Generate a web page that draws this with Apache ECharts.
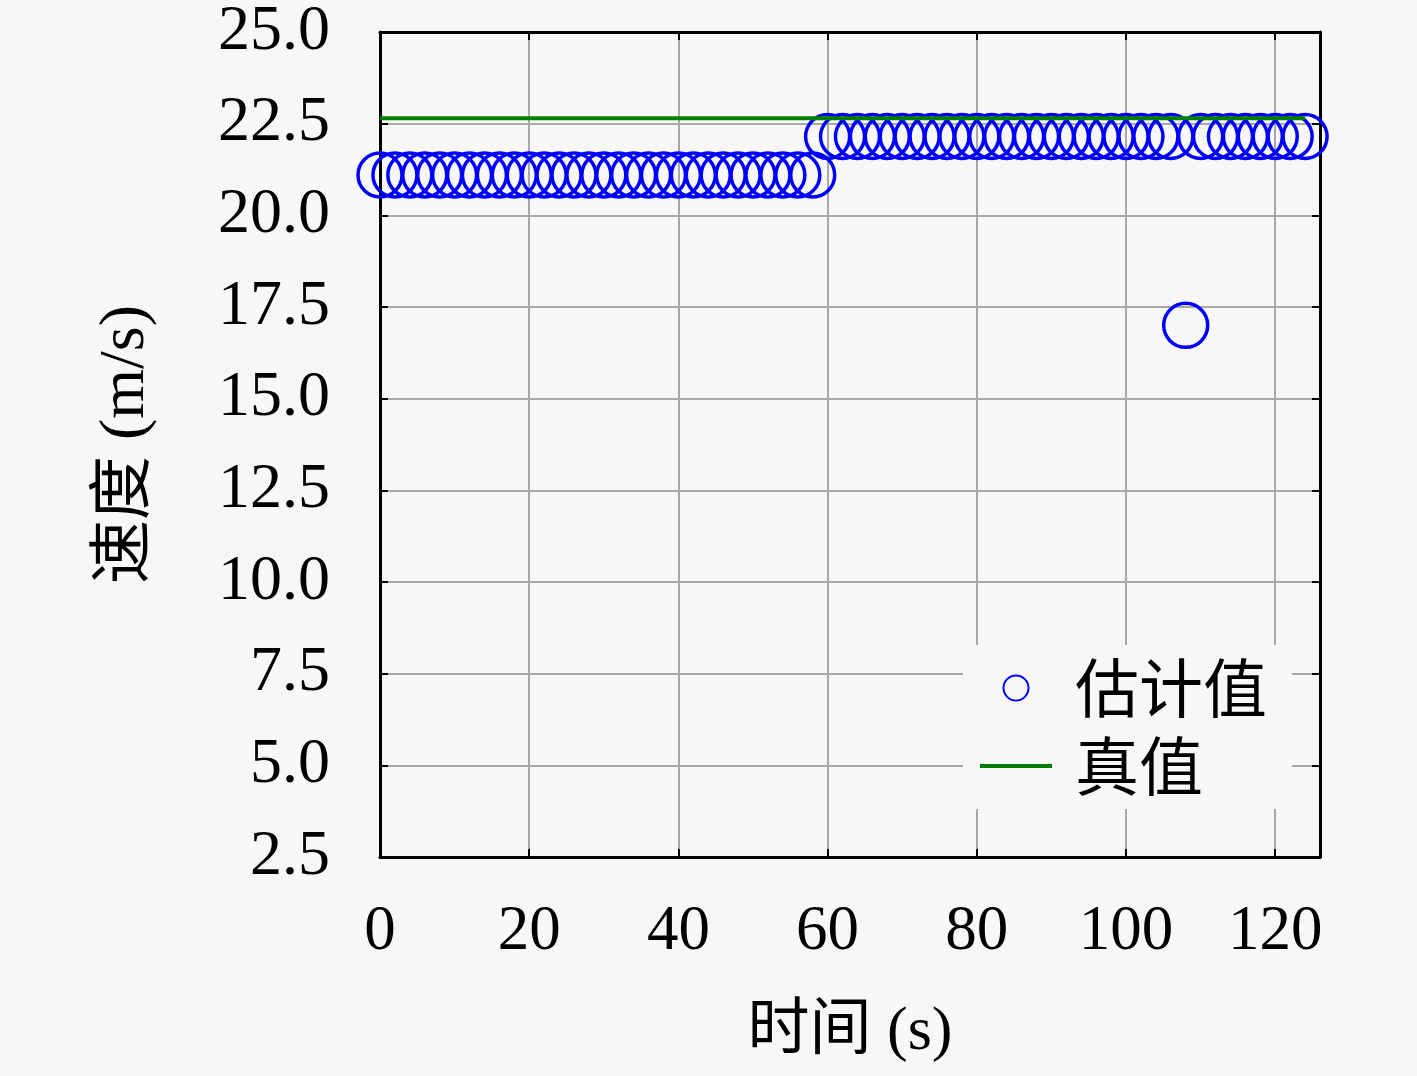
<!DOCTYPE html>
<html>
<head>
<meta charset="utf-8">
<script src="https://cdn.jsdelivr.net/npm/echarts@6/dist/echarts.min.js"></script>
<style>
  html, body { margin: 0; padding: 0; background: #f7f7f7; }
  #main { width: 1417px; height: 1076px; }
</style>
</head>
<body>
<div id="main"></div>
<script>
var estimateTimes = [0, 2, 4, 6, 8, 10, 12, 14, 16, 18, 20, 22, 24, 26, 28, 30, 32, 34, 36, 38,
  40, 42, 44, 46, 48, 50, 52, 54, 56, 58, 60, 62, 64, 66, 68, 70, 72, 74, 76, 78,
  80, 82, 84, 86, 88, 90, 92, 94, 96, 98, 100, 102, 104, 106, 108, 110, 112, 114, 116, 118,
  120, 122, 124];
var estimateValues = [21.1, 21.1, 21.1, 21.1, 21.1, 21.1, 21.1, 21.1, 21.1, 21.1,
  21.1, 21.1, 21.1, 21.1, 21.1, 21.1, 21.1, 21.1, 21.1, 21.1,
  21.1, 21.1, 21.1, 21.1, 21.1, 21.1, 21.1, 21.1, 21.1, 21.1,
  22.15, 22.15, 22.15, 22.15, 22.15, 22.15, 22.15, 22.15, 22.15, 22.15,
  22.15, 22.15, 22.15, 22.15, 22.15, 22.15, 22.15, 22.15, 22.15, 22.15,
  22.15, 22.15, 22.15, 22.15, 17.0, 22.15, 22.15, 22.15, 22.15, 22.15,
  22.15, 22.15, 22.15];
var trueTimes = [0, 124];
var trueValues = [22.65, 22.65];

var seriesNames = ['估计值', '真值'];

var serif = "'Liberation Serif', 'Noto Sans CJK SC', serif";
var cjk = "'Noto Sans CJK SC', 'Liberation Serif', serif";

var dom = document.getElementById('main');
var myChart = echarts.init(dom, null, { renderer: 'canvas' });

var estData = estimateTimes.map(function (t, i) { return [t, estimateValues[i]]; });
var trueData = trueTimes.map(function (t, i) { return [t, trueValues[i]]; });

var frameLine = { show: true, onZero: false, lineStyle: { color: '#000', width: 3 } };
var tick = { show: true, inside: true, length: 8, lineStyle: { color: '#000', width: 2 } };

var option = {
  backgroundColor: '#f7f7f7',
  animation: false,
  grid: { left: 380, right: 97, top: 32, bottom: 219 },
  legend: {
    orient: 'vertical',
    left: 963,
    top: 645,
    padding: [8, 25, 8, 15],
    itemGap: 8,
    itemWidth: 72,
    itemHeight: 25,
    backgroundColor: '#f7f7f7',
    data: [
      { name: seriesNames[0] },
      { name: seriesNames[1], itemStyle: { opacity: 0 }, lineStyle: { color: '#008000', width: 4 } }
    ],
    textStyle: { fontFamily: cjk, fontSize: 64, color: '#000', lineHeight: 70, padding: [0, 0, 0, 18] }
  },
  xAxis: [{
    type: 'value',
    min: 0,
    max: 126,
    interval: 20,
    name: '时间 (s)',
    nameLocation: 'middle',
    nameGap: 145,
    nameTextStyle: { fontFamily: serif, fontSize: 62, color: '#000' },
    axisLine: frameLine,
    axisTick: tick,
    axisLabel: { fontFamily: serif, fontSize: 63, color: '#000', margin: 44, showMaxLabel: false },
    splitLine: { show: true, lineStyle: { color: '#a8a8a8', width: 2 } }
  }, {
    type: 'value',
    position: 'top',
    min: 0,
    max: 126,
    interval: 20,
    axisLine: frameLine,
    axisTick: tick,
    axisLabel: { show: false },
    splitLine: { show: false }
  }],
  yAxis: [{
    type: 'value',
    min: 2.5,
    max: 25,
    interval: 2.5,
    name: '速度 (m/s)',
    nameLocation: 'middle',
    nameGap: 222,
    nameTextStyle: { fontFamily: serif, fontSize: 64, color: '#000' },
    axisLine: frameLine,
    axisTick: tick,
    axisLabel: {
      fontFamily: serif, fontSize: 64, color: '#000', margin: 50,
      formatter: function (v) { return v.toFixed(1); }
    },
    splitLine: { show: true, lineStyle: { color: '#a8a8a8', width: 2 } }
  }, {
    type: 'value',
    position: 'right',
    min: 2.5,
    max: 25,
    interval: 2.5,
    axisLine: frameLine,
    axisTick: tick,
    axisLabel: { show: false },
    splitLine: { show: false }
  }],
  series: [
    {
      name: seriesNames[1],
      type: 'line',
      data: trueData,
      symbol: 'none',
      lineStyle: { color: '#008000', width: 4 },
      itemStyle: { color: '#008000' }
    },
    {
      name: seriesNames[0],
      type: 'scatter',
      data: estData,
      symbol: 'circle',
      symbolSize: 44,
      itemStyle: { color: 'rgba(0,0,0,0)', borderColor: '#0000ff', borderWidth: 3.5, opacity: 1 }
    }
  ]
};

myChart.setOption(option);
window.addEventListener('resize', myChart.resize);
</script>
</body>
</html>
